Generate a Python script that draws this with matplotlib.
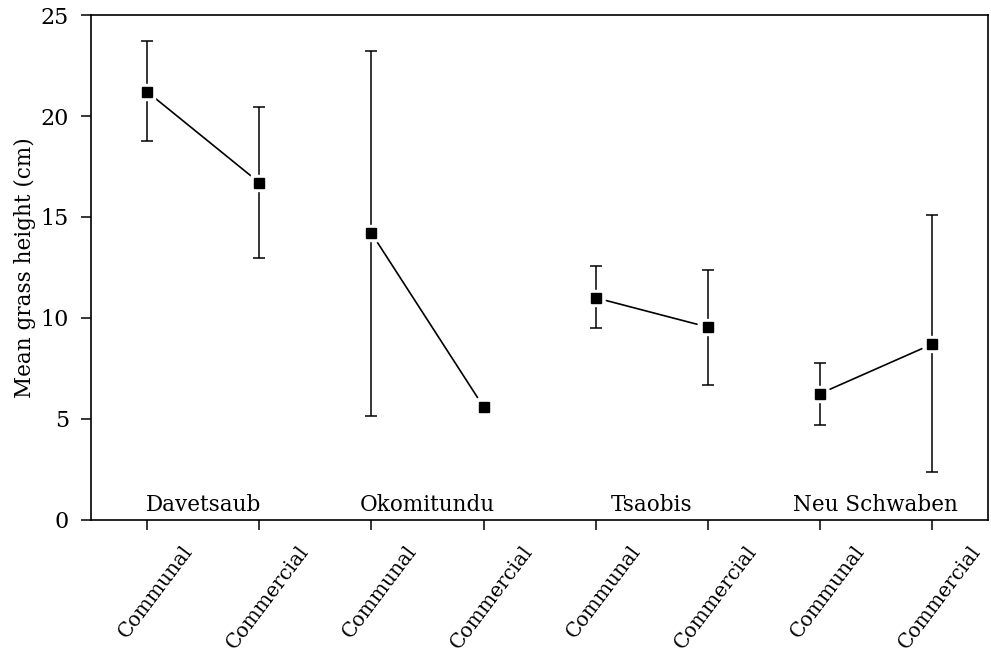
import matplotlib
matplotlib.use("Agg")
import matplotlib.pyplot as plt
import matplotlib.transforms as mtransforms
import numpy as np

sites = ["Davetsaub", "Okomitundu", "Tsaobis", "Neu Schwaben"]
tenure = ["Communal", "Commercial"] * 4
means = [21.2, 16.7, 14.2, 5.6, 11.0, 9.55, 6.25, 8.7]
upper = [23.7, 20.45, 23.2, 5.6, 12.55, 12.4, 7.75, 15.1]
lower = [18.75, 12.95, 5.15, 5.6, 9.5, 6.7, 4.7, 2.35]

plt.rcParams['font.family'] = ['DejaVu Serif']

fig = plt.figure(figsize=(9.91, 6.54), dpi=100)
ax = fig.add_axes([0.092, 0.205, 0.905, 0.772])

x = np.arange(len(means))
m = np.array(means)
yerr = np.vstack([m - np.array(lower), np.array(upper) - m])

ax.errorbar(x, m, yerr=yerr, fmt='none', ecolor='black', elinewidth=1.1,
            capsize=4, capthick=1.1, zorder=2)

# connecting lines within each site (with a gap around the markers)
for i in range(0, len(means), 2):
    ax.annotate("", xy=(x[i + 1], m[i + 1]), xytext=(x[i], m[i]),
                arrowprops=dict(arrowstyle='-', color='black', lw=1.2,
                                shrinkA=8, shrinkB=8), zorder=3)

ax.plot(x, m, linestyle='none', marker='s', markersize=11,
        markerfacecolor='white', markeredgecolor='white', zorder=4)
ax.plot(x, m, linestyle='none', marker='s', markersize=6.5,
        markerfacecolor='black', markeredgecolor='black', zorder=5)

for j, s in enumerate(sites):
    ax.text(2 * j + 0.5, 0.45, s, ha='center', va='baseline', fontsize=15.5)

ax.set_xlim(-0.5, 7.5)
ax.set_ylim(0, 25)
ax.set_yticks([0, 5, 10, 15, 20, 25])
ax.set_xticks(x)
ax.set_xticklabels([])

# rotated category labels, shifted slightly right of each tick
blend = mtransforms.blended_transform_factory(ax.transData, ax.transAxes)
offset = mtransforms.ScaledTranslation(8 / 100, -22 / 100, fig.dpi_scale_trans)
for xi, lab in zip(x, tenure):
    ax.text(xi, 0, lab, transform=blend + offset, rotation=53,
            ha='center', va='top', fontsize=14.5, clip_on=False)

ax.tick_params(axis='both', direction='out', length=7, width=1.1)
ax.tick_params(axis='y', pad=9, labelsize=16)
ax.set_ylabel("Mean grass height (cm)", fontsize=15.5, labelpad=3)
for sp in ax.spines.values():
    sp.set_linewidth(1.2)

fig.savefig("out.png", dpi=100)
